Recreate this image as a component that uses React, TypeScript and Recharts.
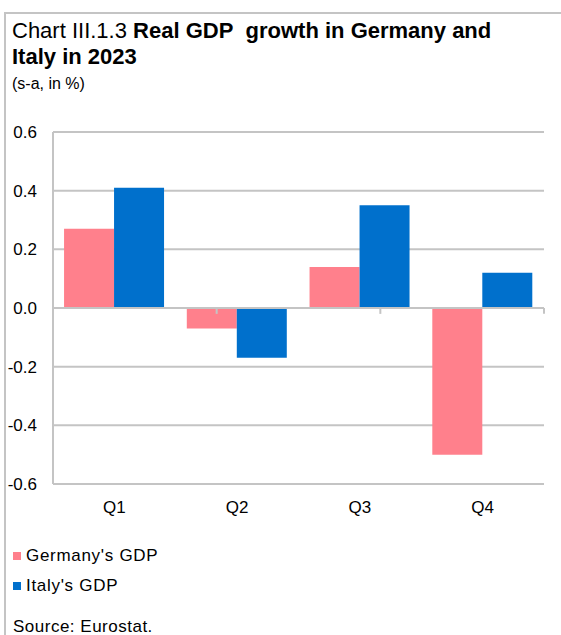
import React from "react";
import { BarChart, Bar, XAxis, YAxis, CartesianGrid, ReferenceLine } from "recharts";

const categories = ["Q1", "Q2", "Q3", "Q4"];
const germanyGdp = [0.27, -0.07, 0.14, -0.5];
const italyGdp = [0.41, -0.17, 0.35, 0.12];
const yTicks = [-0.6, -0.4, -0.2, 0.0, 0.2, 0.4, 0.6];
const boundaryTicks = [1, 2, 3];

const GERMANY = "#FF808C";
const ITALY = "#0070CC";
const GRID = "#C4C4C4";
const FONT = "'Liberation Sans', Arial, sans-serif";

const data = categories.map((c, i) => ({ q: c, germany: germanyGdp[i], italy: italyGdp[i] }));

export default function App() {
  return (
    <div style={{ position: "absolute", left: 0, top: 0, width: 561, height: 635, overflow: "hidden", background: "#fff", fontFamily: FONT, color: "#000" }}>
      <div style={{ position: "absolute", left: 4, top: 12, width: 700, height: 700, borderTop: `2px solid ${GRID}`, borderLeft: `2px solid ${GRID}` }} />
      <div style={{ position: "absolute", left: 12, top: 18, width: 548, fontSize: 22, lineHeight: "26px", whiteSpace: "nowrap" }}>
        <div>Chart III.1.3 <b>Real GDP&nbsp; growth in Germany and</b></div>
        <div><b>Italy in 2023</b></div>
      </div>
      <div style={{ position: "absolute", left: 12, top: 75, fontSize: 16 }}>(s-a, in %)</div>
      <div style={{ position: "absolute", left: 0, top: 0 }}>
        <BarChart width={561} height={520} data={data} margin={{ top: 132, right: 17, bottom: 0, left: 0 }} barCategoryGap="9%" barGap={0}>
          <CartesianGrid vertical={false} stroke={GRID} strokeWidth={2} />
          <XAxis dataKey="q" xAxisId="cat" axisLine={false} tickLine={false} tickSize={0} tickMargin={17} height={36} interval={0}
            tick={{ fontSize: 17, fill: "#000", fontFamily: FONT }} />
          <XAxis xAxisId="num" type="number" domain={[0, 4]} hide />
          <YAxis domain={[-0.6, 0.6]} ticks={yTicks} width={53} tickLine={false} tickSize={0} tickMargin={16}
            axisLine={{ stroke: GRID, strokeWidth: 2 }} tickFormatter={(v: number) => v.toFixed(1)}
            tick={{ fontSize: 17, fill: "#000", fontFamily: FONT }} allowDataOverflow />
          <YAxis yAxisId="right" orientation="right" domain={[-0.6, 0.6]} width={0} tick={false} tickLine={false}
            axisLine={{ stroke: GRID, strokeWidth: 2 }} />
          <Bar dataKey="germany" xAxisId="cat" fill={GERMANY} isAnimationActive={false} />
          <Bar dataKey="italy" xAxisId="cat" fill={ITALY} isAnimationActive={false} />
          <ReferenceLine y={0} xAxisId="num" stroke={GRID} strokeWidth={2} />
          {boundaryTicks.map((b) => (
            <ReferenceLine key={b} xAxisId="num" segment={[{ x: b, y: 0 }, { x: b, y: -0.02 }]} stroke={GRID} strokeWidth={2} />
          ))}
        </BarChart>
      </div>
      <div style={{ position: "absolute", left: 13, top: 546, fontSize: 17, lineHeight: "20px", letterSpacing: "0.7px" }}>
        <div style={{ display: "flex", alignItems: "center", height: 20 }}>
          <span style={{ width: 8, height: 8, background: GERMANY, display: "inline-block", marginRight: 5 }} />Germany's GDP
        </div>
        <div style={{ display: "flex", alignItems: "center", height: 20, marginTop: 10 }}>
          <span style={{ width: 8, height: 8, background: ITALY, display: "inline-block", marginRight: 5 }} />Italy's GDP
        </div>
      </div>
      <div style={{ position: "absolute", left: 13, top: 617, fontSize: 17, letterSpacing: "0.5px" }}>Source: Eurostat.</div>
    </div>
  );
}
